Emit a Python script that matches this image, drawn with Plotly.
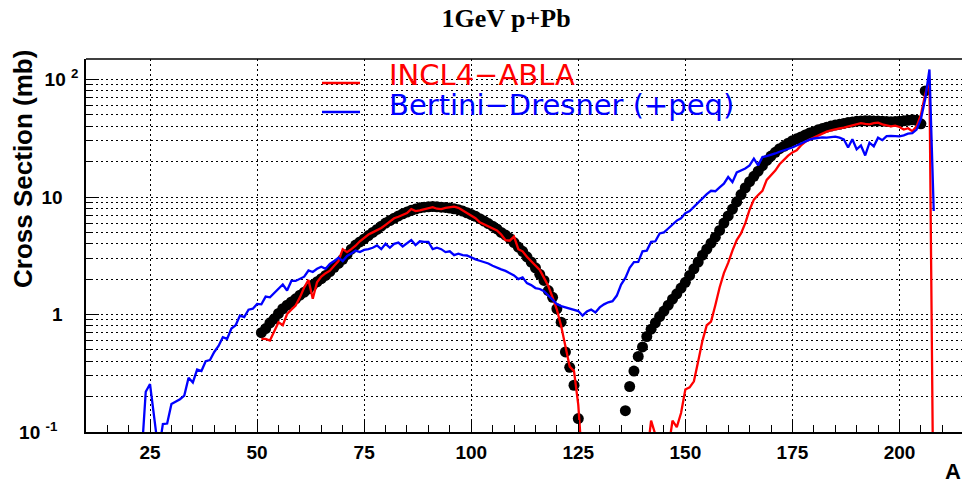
import plotly.graph_objects as go

# ---------------- data ----------------
# Experimental data (black circles), mass number A and cross section (mb)
exp_A_low = list(range(51, 126))
exp_low = [0.70, 0.76, 0.85, 0.92, 1.02, 1.12, 1.20, 1.28, 1.36, 1.46,
           1.55, 1.65, 1.78, 1.90, 2.02, 2.15, 2.32, 2.52, 2.72, 2.95,
           3.25, 3.6, 3.9, 4.15, 4.4, 4.7, 5.0, 5.3, 5.65, 6.0,
           6.3, 6.6, 6.9, 7.2, 7.45, 7.7, 7.9, 8.1, 8.2, 8.25,
           8.3, 8.25, 8.2, 8.15, 8.05, 7.95, 7.8, 7.6, 7.35, 7.1,
           6.85, 6.55, 6.25, 5.95, 5.65, 5.35, 5.0, 4.75, 4.45, 4.1,
           3.75, 3.45, 3.1, 2.8, 2.5, 2.2, 1.95, 1.6, 1.4, 1.12,
           0.86, 0.48, 0.355, 0.25, 0.13]
exp_A_high = list(range(136, 207))
exp_high = [0.152, 0.244, 0.33, 0.44, 0.53, 0.65, 0.75, 0.85, 0.96, 1.07,
            1.2, 1.35, 1.5, 1.68, 1.88, 2.15, 2.45, 2.8, 3.2, 3.6,
            4.05, 4.55, 5.2, 6.0, 6.9, 7.9, 9.1, 10.5, 12.0, 13.5,
            15.0, 16.6, 18.5, 20.5, 22.3, 24.0, 25.8, 27.0, 28.7, 30.2,
            31.3, 32.5, 33.8, 35.0, 36.0, 37.3, 38.3, 39.3, 40.2, 41.0,
            41.6, 42.3, 43.0, 43.6, 44.2, 44.4, 44.6, 44.5, 44.4, 44.4,
            44.2, 44.0, 43.8, 44.0, 44.2, 44.6, 45.0, 45.5, 45.0, 42.0,
            80.0]

# INCL4-ABLA (red)
incl_A_low = list(range(51, 127))
incl_low = [0.62, 0.62, 0.60, 0.72, 0.86, 0.81, 1.01, 1.10, 1.19, 1.40,
            1.70, 1.97, 1.36, 1.88, 2.1, 2.25, 2.36, 2.6, 2.85, 3.6,
            3.4, 3.6, 3.85, 4.2, 4.5, 4.8, 5.0, 5.2, 5.45, 5.8,
            6.2, 6.6, 6.8, 7.0, 7.3, 7.9, 7.6, 7.7, 7.9, 8.0,
            8.2, 7.95, 7.9, 8.1, 8.2, 8.3, 8.1, 7.7, 7.3, 7.0,
            6.6, 6.1, 5.85, 5.7, 5.4, 5.2, 4.8, 4.3, 4.25, 4.6,
            3.6, 3.45, 3.1, 2.85, 2.6, 2.4, 2.05, 1.75, 1.40, 1.10,
            0.80, 0.52, 0.36, 0.33, 0.17, 0.05]
incl_A_high = list(range(141, 209))
incl_high = [0.06, 0.125, 0.095, 0.05, 0.05, 0.07, 0.125, 0.11, 0.145, 0.23,
             0.24, 0.27, 0.40, 0.6, 0.81, 0.87, 1.2, 1.7, 2.25, 2.75,
             3.5, 4.3, 4.9, 6.0, 7.8, 9.5, 10.4, 11.3, 14.0, 15.2,
             16.8, 19.0, 20.8, 22.5, 24.0, 25.0, 27.5, 29.5, 30.8, 32.0,
             33.5, 35.0, 36.0, 37.0, 38.0, 38.5, 39.0, 40.0, 41.0, 42.0,
             42.5, 42.0, 41.6, 42.5, 43.0, 41.5, 40.5, 40.0, 40.5, 39.5,
             37.5, 38.5, 36.3, 40.0, 50.0, 75.0, 100.0, 0.01]

# Bertini-Dresner (+peq) (blue)
bert_A = list(range(23, 209))
bert = [0.06, 0.22, 0.256, 0.13, 0.067, 0.117, 0.118, 0.173, 0.18, 0.19,
        0.204, 0.29, 0.264, 0.34, 0.33, 0.40, 0.41, 0.48, 0.54, 0.64,
        0.62, 0.76, 0.81, 0.98, 0.95, 1.10, 1.12, 1.23, 1.22, 1.42,
        1.40, 1.52, 1.65, 1.80, 1.60, 1.93, 1.93, 2.02, 2.10, 2.37,
        2.30, 2.45, 2.55, 2.45, 2.7, 2.85, 3.05, 2.85, 3.15, 3.3,
        3.5, 3.4, 3.55, 3.6, 3.7, 3.87, 3.6, 4.0, 3.7, 4.0,
        4.1, 3.8, 4.05, 4.3, 3.9, 4.2, 4.15, 4.15, 3.6, 3.7,
        3.6, 3.4, 3.45, 3.2, 3.3, 3.2, 3.18, 3.05, 2.95, 2.87,
        2.8, 2.72, 2.6, 2.5, 2.42, 2.35, 2.25, 2.15, 2.0, 2.07,
        1.85, 1.78, 1.68, 1.65, 1.58, 1.45, 1.33, 1.23, 1.18, 1.15,
        1.12, 1.10, 1.07, 0.98, 1.06, 1.10, 1.04, 1.15, 1.22, 1.27,
        1.30, 1.45, 1.8, 2.05, 2.5, 2.79, 2.8, 3.45, 3.5, 4.15,
        4.2, 4.9, 5.0, 5.4, 5.8, 6.3, 6.6, 7.3, 7.6, 8.3,
        8.9, 9.8, 10.6, 11.3, 11.2, 12.1, 13.0, 14.8, 13.4, 16.2,
        16.8, 17.5, 18.6, 21.2, 18.6, 21.9, 22.3, 22.8, 23.5, 24.3,
        25.0, 25.5, 26.4, 27.5, 28.6, 30.0, 30.8, 31.5, 31.8, 32.2,
        32.0, 32.5, 32.7, 32.0, 31.0, 26.4, 31.0, 25.5, 27.5, 22.6,
        29.0, 27.0, 32.0, 30.5, 33.0, 33.2, 33.0, 32.8, 33.5, 34.6,
        35.0, 37.5, 46.0, 68.0, 122.0, 7.6]

y_tickvals = [0.1, 1, 10, 100]
y_ticktext = ["10 <sup>-1</sup>\u00a0\u00a0\u00a0\u00a0", "1\u00a0\u00a0\u00a0",
              "10\u00a0\u00a0\u00a0", "10 <sup>2</sup>"]
y_minor = [m * d for d in (0.1, 1, 10) for m in range(2, 10)]

legend_names = ["INCL4\u2212ABLA", "Bertini\u2212Dresner (+peq)"]
legend_colors = ["#ff0000", "#0000ff"]

# ---------------- figure ----------------
fig = go.Figure()
fig.add_trace(go.Scatter(x=exp_A_low + exp_A_high, y=exp_low + exp_high, mode="markers",
                         marker=dict(color="black", size=11), name="data", showlegend=False))
fig.add_trace(go.Scatter(x=incl_A_low + [None] + incl_A_high, y=incl_low + [None] + incl_high,
                         mode="lines", line=dict(color=legend_colors[0], width=2.3),
                         connectgaps=False, name=legend_names[0], showlegend=False))
fig.add_trace(go.Scatter(x=bert_A, y=bert, mode="lines",
                         line=dict(color=legend_colors[1], width=2.3),
                         name=legend_names[1], showlegend=False))

tickfont = dict(family="Liberation Sans, Arial, sans-serif", size=19, color="black", weight="bold")
grid_dash = "2px,3px"

fig.update_xaxes(range=[10.05, 214.6], tickmode="linear", tick0=0, dtick=25,
                 ticks="inside", ticklen=12, tickwidth=1, tickcolor="black",
                 showline=True, linecolor="black", linewidth=1.5,
                 showgrid=True, gridcolor="black", gridwidth=1, griddash=grid_dash,
                 zeroline=False, tickfont=tickfont, ticklabelstandoff=2,
                 minor=dict(tick0=0, dtick=5, ticks="inside", ticklen=7,
                            tickcolor="black", tickwidth=1, showgrid=False))
fig.update_yaxes(type="log", range=[-1, 2.175], tickmode="array",
                 tickvals=y_tickvals, ticktext=y_ticktext,
                 ticks="inside", ticklen=13, tickwidth=1, tickcolor="black",
                 showline=True, linecolor="black", linewidth=1.5,
                 showgrid=True, gridcolor="black", gridwidth=1, griddash=grid_dash,
                 zeroline=False, tickfont=tickfont, ticklabelstandoff=2,
                 minor=dict(tickmode="array", tickvals=y_minor, ticks="inside", ticklen=7,
                            tickcolor="black", tickwidth=1, showgrid=True,
                            gridcolor="black", gridwidth=1, griddash=grid_dash))

# top frame line
fig.add_shape(type="line", xref="paper", yref="paper", x0=0, x1=1, y0=1, y1=1,
              line=dict(color="black", width=1.5))

# manual legend
leg_line_y = [0.9357, 0.8579]
leg_text_y = [0.957, 0.8767]
for name, col, ly, ty in zip(legend_names, legend_colors, leg_line_y, leg_text_y):
    fig.add_shape(type="line", xref="paper", yref="paper", x0=0.2694, x1=0.3128,
                  y0=ly, y1=ly, line=dict(color=col, width=2.3))
    fig.add_annotation(xref="paper", yref="paper", x=0.3436, y=ty, text=name,
                       showarrow=False, xanchor="left", yanchor="middle",
                       font=dict(family="DejaVu Sans", size=29, color=col))

# axis titles
fig.add_annotation(xref="paper", yref="paper", x=-0.072, y=0.705, text="Cross Section (mb)",
                   textangle=-90, showarrow=False, xanchor="center", yanchor="middle",
                   font=dict(family="Liberation Sans, Arial, sans-serif", size=26,
                             color="black", weight="bold"))
fig.add_annotation(xref="paper", yref="paper", x=0.99, y=-0.107, text="A",
                   showarrow=False, xanchor="center", yanchor="middle",
                   font=dict(family="Liberation Sans, Arial, sans-serif", size=22,
                             color="black", weight="bold"))

fig.update_layout(
    width=962, height=486,
    margin=dict(l=86, r=0, t=59, b=54),
    paper_bgcolor="white", plot_bgcolor="white",
    showlegend=False,
    title=dict(text="1GeV p+Pb", x=0.526, xref="container", xanchor="center",
               y=0.963, yref="container", yanchor="middle",
               font=dict(family="Liberation Serif, Times New Roman, serif", size=26,
                         color="black", weight="bold")),
)

fig.write_html("out.html", config={"displayModeBar": False},
               post_script="document.body.style.margin='0px';document.body.style.overflow='hidden';")
